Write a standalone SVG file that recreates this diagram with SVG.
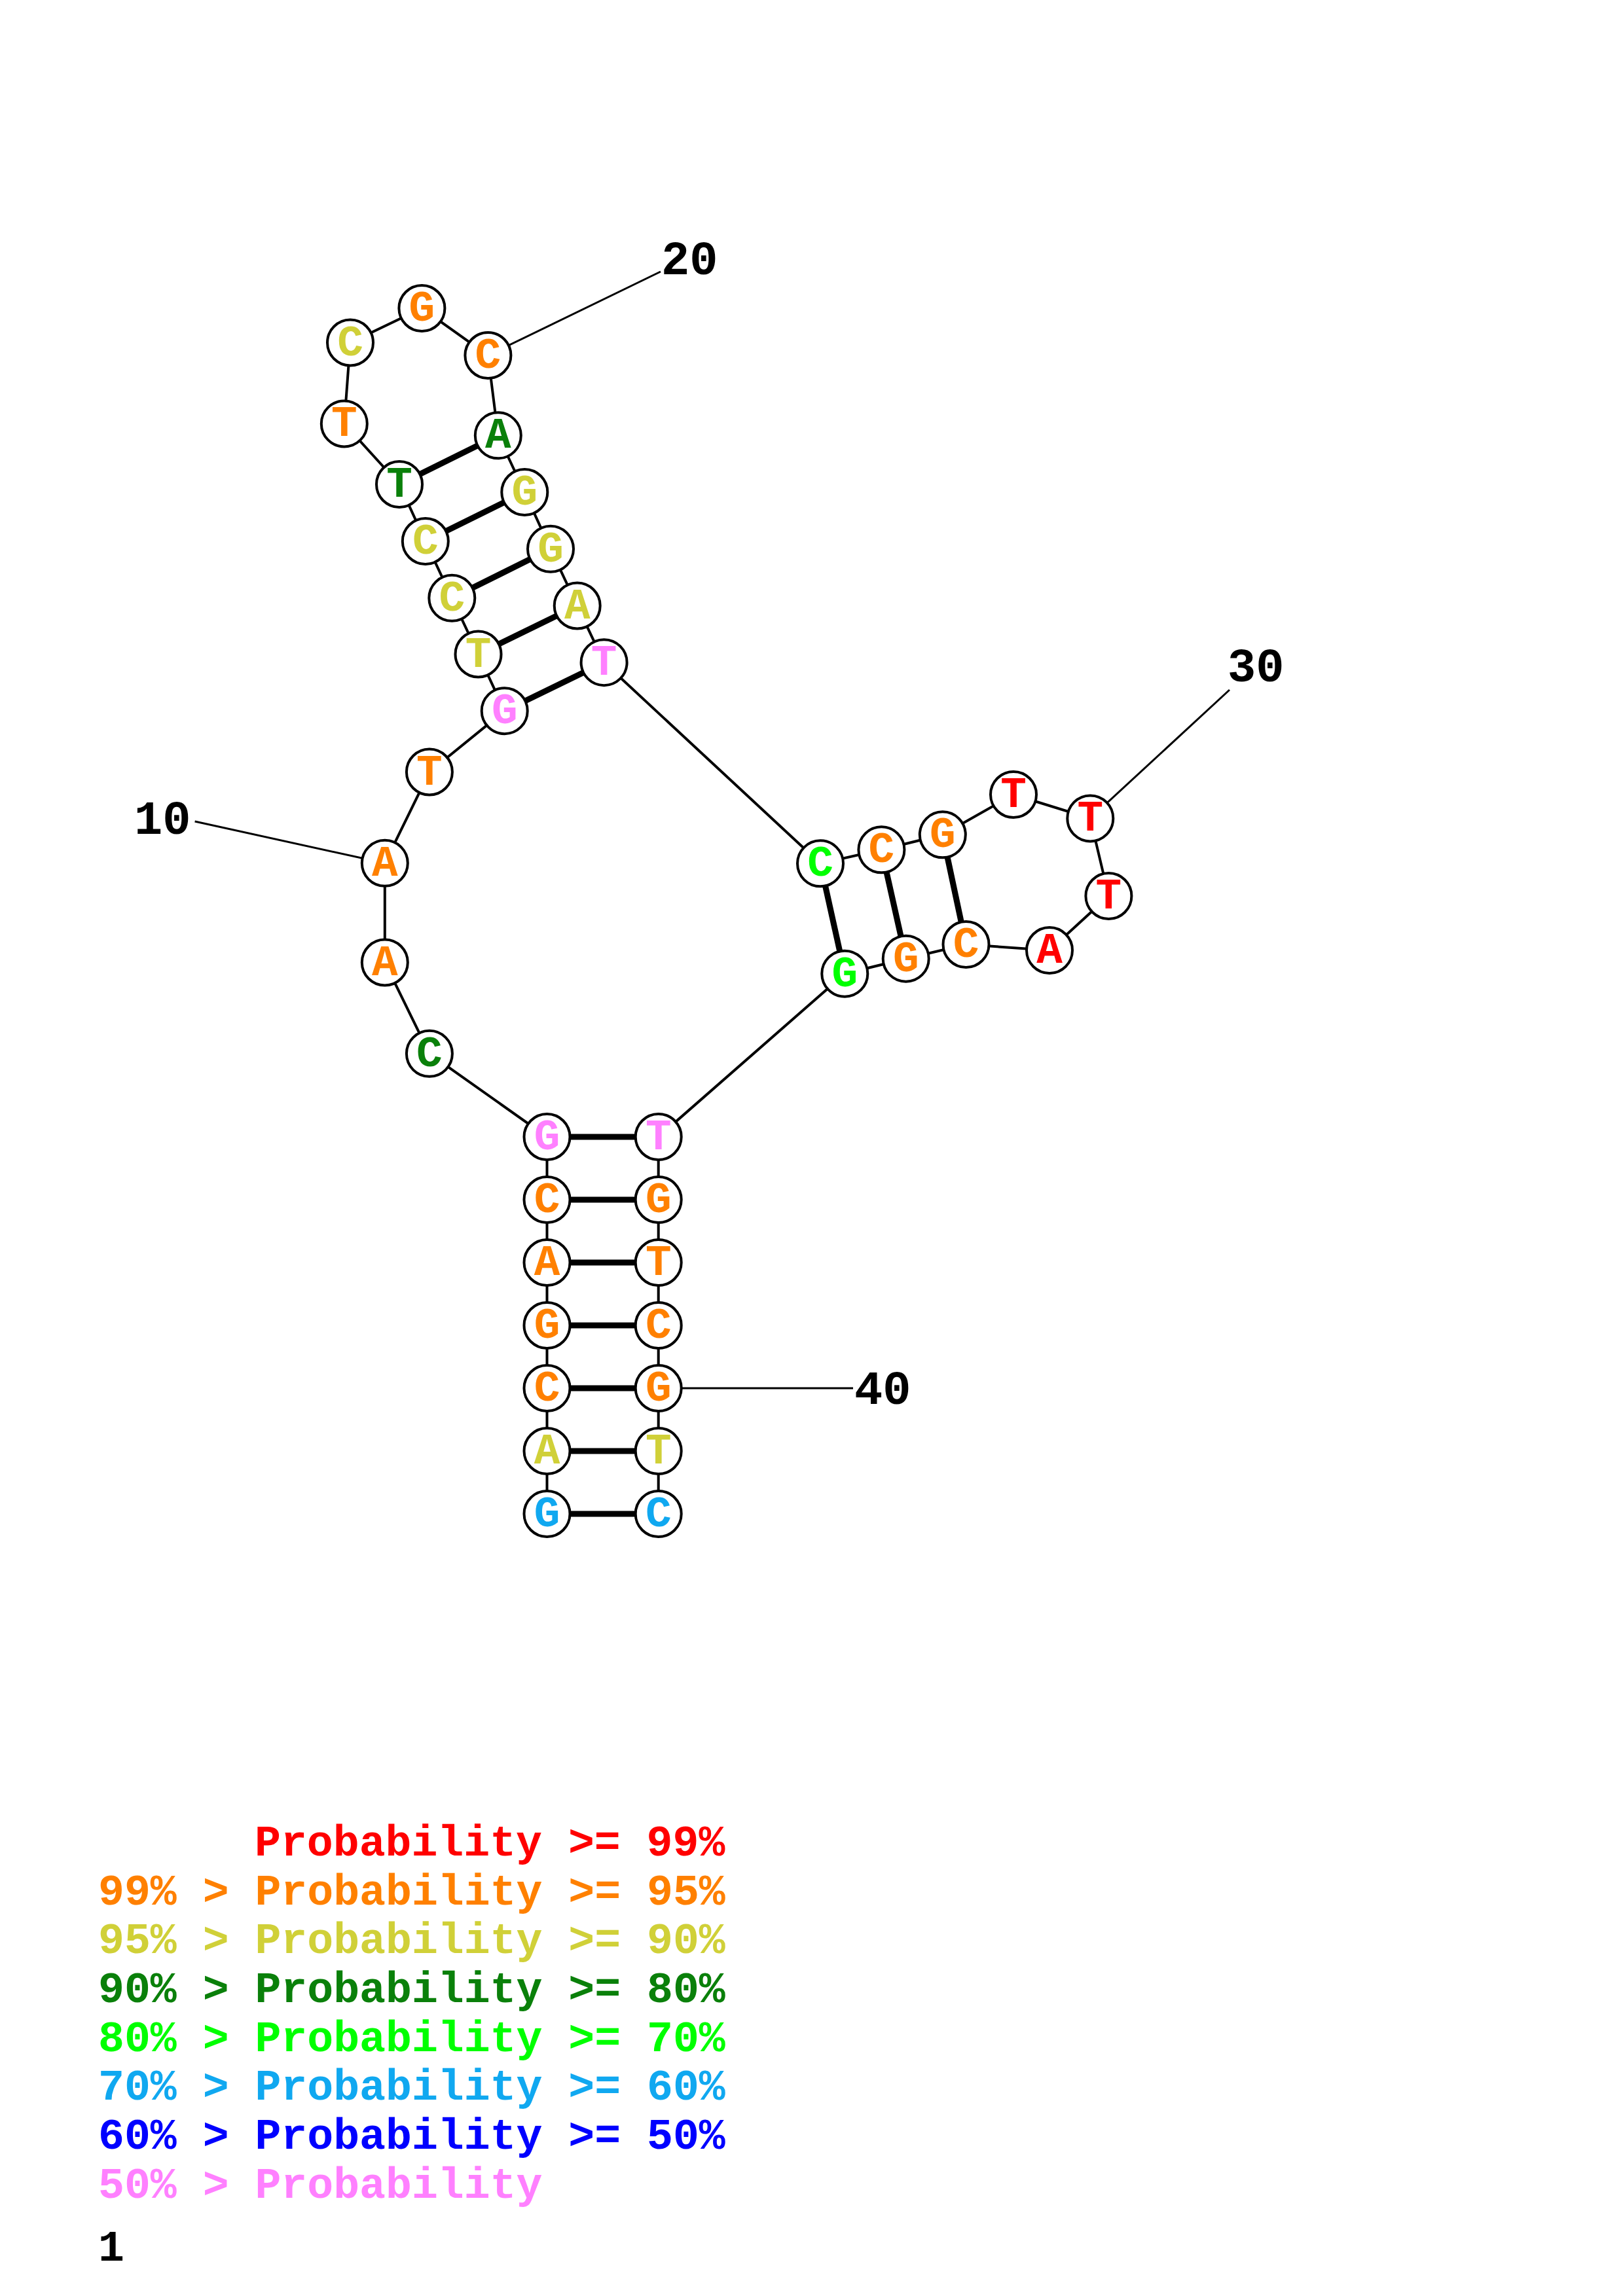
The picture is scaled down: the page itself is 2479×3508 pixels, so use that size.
<svg xmlns="http://www.w3.org/2000/svg" width="2479" height="3508" viewBox="0 0 2479 3508">
<style>
.bb{stroke:#000;stroke-width:4;fill:none}
.pr{stroke:#000;stroke-width:9;fill:none}
.lb{stroke:#000;stroke-width:3;fill:none}
circle{fill:#fff;stroke:#000;stroke-width:4}
.b{font-family:"Liberation Mono","Courier New",monospace;font-weight:bold;font-size:66px;text-anchor:middle}
.num{font-family:"Liberation Mono","Courier New",monospace;font-weight:bold;font-size:72px;fill:#000}
.lg{font-family:"Liberation Mono","Courier New",monospace;font-weight:bold;font-size:66.5px}
.r{fill:#FF0000}.o{fill:#FF8000}.y{fill:#D0D038}.dg{fill:#0A800A}.g{fill:#00FF00}.lbl{fill:#10A8F0}.bl{fill:#0000FF}.p{fill:#FF80FF}
</style>
<g id="connectors">
<polyline class="bb" points="835.5,2313 835.5,2217 835.5,2121 835.5,2025 835.5,1929 835.5,1833 835.5,1737 655.9,1609.8 587.8,1470.5 587.8,1318.8 655.9,1179.5 770.7,1086.2 730.5,999.5 690.3,913.8 649.8,827 610,740 525.8,647.4 535,523.5 644.4,471 745.4,543 760.8,665.3 801.3,752 841,838.8 881.7,925.5 922.6,1012.2 1253,1319.3 1346.4,1298.3 1439.8,1275.3 1548,1214 1665.3,1250.4 1693.4,1369 1603,1452 1475.5,1443 1383.7,1464.7 1290.3,1487.7 1005.7,1737 1005.7,1833 1005.7,1929 1005.7,2025 1005.7,2121 1005.7,2217 1005.7,2313"/>
<line class="pr" x1="835.5" y1="2313" x2="1005.7" y2="2313"/>
<line class="pr" x1="835.5" y1="2217" x2="1005.7" y2="2217"/>
<line class="pr" x1="835.5" y1="2121" x2="1005.7" y2="2121"/>
<line class="pr" x1="835.5" y1="2025" x2="1005.7" y2="2025"/>
<line class="pr" x1="835.5" y1="1929" x2="1005.7" y2="1929"/>
<line class="pr" x1="835.5" y1="1833" x2="1005.7" y2="1833"/>
<line class="pr" x1="835.5" y1="1737" x2="1005.7" y2="1737"/>
<line class="pr" x1="770.7" y1="1086.2" x2="922.6" y2="1012.2"/>
<line class="pr" x1="730.5" y1="999.5" x2="881.7" y2="925.5"/>
<line class="pr" x1="690.3" y1="913.8" x2="841" y2="838.8"/>
<line class="pr" x1="649.8" y1="827" x2="801.3" y2="752"/>
<line class="pr" x1="610" y1="740" x2="760.8" y2="665.3"/>
<line class="pr" x1="1253" y1="1319.3" x2="1290.3" y2="1487.7"/>
<line class="pr" x1="1346.4" y1="1298.3" x2="1383.7" y2="1464.7"/>
<line class="pr" x1="1439.8" y1="1275.3" x2="1475.5" y2="1443"/>
<line class="lb" x1="587.8" y1="1318.8" x2="297.6" y2="1255"/>
<line class="lb" x1="745.4" y1="543" x2="1009" y2="415"/>
<line class="lb" x1="1665.3" y1="1250.4" x2="1878" y2="1054"/>
<line class="lb" x1="1005.7" y1="2121" x2="1303" y2="2121"/>
</g>
<g id="n1"><circle cx="835.5" cy="2313" r="35"/><text class="b lbl" x="835.5" y="2332">G</text></g>
<g id="n2"><circle cx="835.5" cy="2217" r="35"/><text class="b y" x="835.5" y="2236">A</text></g>
<g id="n3"><circle cx="835.5" cy="2121" r="35"/><text class="b o" x="835.5" y="2140">C</text></g>
<g id="n4"><circle cx="835.5" cy="2025" r="35"/><text class="b o" x="835.5" y="2044">G</text></g>
<g id="n5"><circle cx="835.5" cy="1929" r="35"/><text class="b o" x="835.5" y="1948">A</text></g>
<g id="n6"><circle cx="835.5" cy="1833" r="35"/><text class="b o" x="835.5" y="1852">C</text></g>
<g id="n7"><circle cx="835.5" cy="1737" r="35"/><text class="b p" x="835.5" y="1756">G</text></g>
<g id="n8"><circle cx="655.9" cy="1609.8" r="35"/><text class="b dg" x="655.9" y="1628.8">C</text></g>
<g id="n9"><circle cx="587.8" cy="1470.5" r="35"/><text class="b o" x="587.8" y="1489.5">A</text></g>
<g id="n10"><circle cx="587.8" cy="1318.8" r="35"/><text class="b o" x="587.8" y="1337.8">A</text></g>
<g id="n11"><circle cx="655.9" cy="1179.5" r="35"/><text class="b o" x="655.9" y="1198.5">T</text></g>
<g id="n12"><circle cx="770.7" cy="1086.2" r="35"/><text class="b p" x="770.7" y="1105.2">G</text></g>
<g id="n13"><circle cx="730.5" cy="999.5" r="35"/><text class="b y" x="730.5" y="1018.5">T</text></g>
<g id="n14"><circle cx="690.3" cy="913.8" r="35"/><text class="b y" x="690.3" y="932.8">C</text></g>
<g id="n15"><circle cx="649.8" cy="827" r="35"/><text class="b y" x="649.8" y="846">C</text></g>
<g id="n16"><circle cx="610" cy="740" r="35"/><text class="b dg" x="610" y="759">T</text></g>
<g id="n17"><circle cx="525.8" cy="647.4" r="35"/><text class="b o" x="525.8" y="666.4">T</text></g>
<g id="n18"><circle cx="535" cy="523.5" r="35"/><text class="b y" x="535" y="542.5">C</text></g>
<g id="n19"><circle cx="644.4" cy="471" r="35"/><text class="b o" x="644.4" y="490">G</text></g>
<g id="n20"><circle cx="745.4" cy="543" r="35"/><text class="b o" x="745.4" y="562">C</text></g>
<g id="n21"><circle cx="760.8" cy="665.3" r="35"/><text class="b dg" x="760.8" y="684.3">A</text></g>
<g id="n22"><circle cx="801.3" cy="752" r="35"/><text class="b y" x="801.3" y="771">G</text></g>
<g id="n23"><circle cx="841" cy="838.8" r="35"/><text class="b y" x="841" y="857.8">G</text></g>
<g id="n24"><circle cx="881.7" cy="925.5" r="35"/><text class="b y" x="881.7" y="944.5">A</text></g>
<g id="n25"><circle cx="922.6" cy="1012.2" r="35"/><text class="b p" x="922.6" y="1031.2">T</text></g>
<g id="n26"><circle cx="1253" cy="1319.3" r="35"/><text class="b g" x="1253" y="1338.3">C</text></g>
<g id="n27"><circle cx="1346.4" cy="1298.3" r="35"/><text class="b o" x="1346.4" y="1317.3">C</text></g>
<g id="n28"><circle cx="1439.8" cy="1275.3" r="35"/><text class="b o" x="1439.8" y="1294.3">G</text></g>
<g id="n29"><circle cx="1548" cy="1214" r="35"/><text class="b r" x="1548" y="1233">T</text></g>
<g id="n30"><circle cx="1665.3" cy="1250.4" r="35"/><text class="b r" x="1665.3" y="1269.4">T</text></g>
<g id="n31"><circle cx="1693.4" cy="1369" r="35"/><text class="b r" x="1693.4" y="1388">T</text></g>
<g id="n32"><circle cx="1603" cy="1452" r="35"/><text class="b r" x="1603" y="1471">A</text></g>
<g id="n33"><circle cx="1475.5" cy="1443" r="35"/><text class="b o" x="1475.5" y="1462">C</text></g>
<g id="n34"><circle cx="1383.7" cy="1464.7" r="35"/><text class="b o" x="1383.7" y="1483.7">G</text></g>
<g id="n35"><circle cx="1290.3" cy="1487.7" r="35"/><text class="b g" x="1290.3" y="1506.7">G</text></g>
<g id="n36"><circle cx="1005.7" cy="1737" r="35"/><text class="b p" x="1005.7" y="1756">T</text></g>
<g id="n37"><circle cx="1005.7" cy="1833" r="35"/><text class="b o" x="1005.7" y="1852">G</text></g>
<g id="n38"><circle cx="1005.7" cy="1929" r="35"/><text class="b o" x="1005.7" y="1948">T</text></g>
<g id="n39"><circle cx="1005.7" cy="2025" r="35"/><text class="b o" x="1005.7" y="2044">C</text></g>
<g id="n40"><circle cx="1005.7" cy="2121" r="35"/><text class="b o" x="1005.7" y="2140">G</text></g>
<g id="n41"><circle cx="1005.7" cy="2217" r="35"/><text class="b y" x="1005.7" y="2236">T</text></g>
<g id="n42"><circle cx="1005.7" cy="2313" r="35"/><text class="b lbl" x="1005.7" y="2332">C</text></g>
<g id="labels">
<text class="num" x="205" y="1274">10</text>
<text class="num" x="1010" y="419">20</text>
<text class="num" x="1875" y="1041">30</text>
<text class="num" x="1305" y="2145">40</text>
</g>
<g id="legend">
<text class="lg r" x="389" y="2835">Probability &gt;= 99%</text>
<text class="lg o" x="150" y="2910">99% &gt; Probability &gt;= 95%</text>
<text class="lg y" x="150" y="2984">95% &gt; Probability &gt;= 90%</text>
<text class="lg dg" x="150" y="3059">90% &gt; Probability &gt;= 80%</text>
<text class="lg g" x="150" y="3134">80% &gt; Probability &gt;= 70%</text>
<text class="lg lbl" x="150" y="3208">70% &gt; Probability &gt;= 60%</text>
<text class="lg bl" x="150" y="3283">60% &gt; Probability &gt;= 50%</text>
<text class="lg p" x="150" y="3358">50% &gt; Probability</text>
<text class="lg" x="150" y="3454" fill="#000">1</text>
</g>
</svg>
